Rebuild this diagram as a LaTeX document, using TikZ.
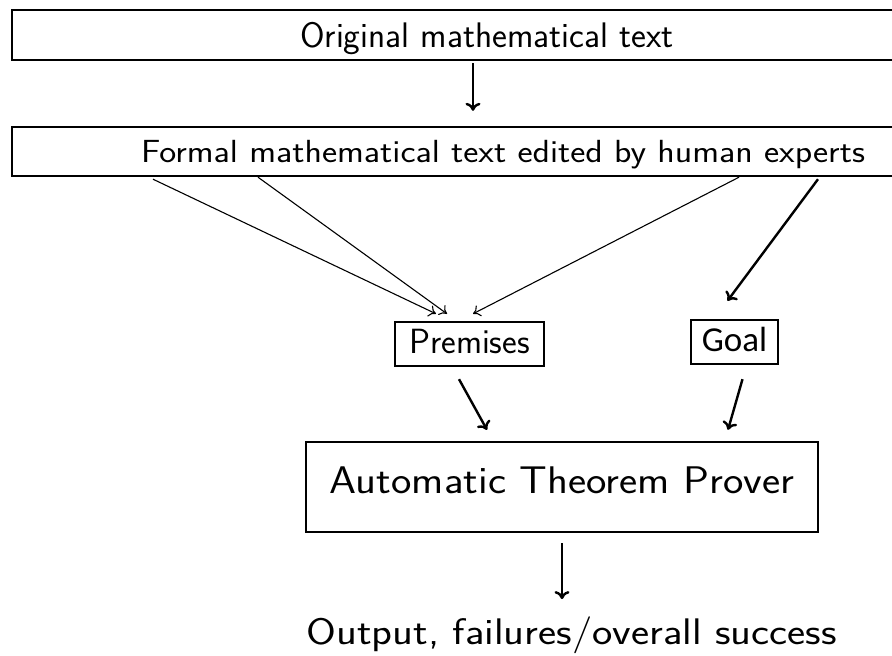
\documentclass[tikz,border=0pt]{standalone}
\usepackage{fontspec}
\usepackage{graphicx}
\usetikzlibrary{arrows.meta}
\newfontfamily\goalfont{Carlito}
\begin{document}
\begin{tikzpicture}[x=1pt,y=-1pt,
  box/.style={draw,line width=2.4pt,inner sep=0pt,font=\sffamily},
  thin/.style={line width=1.1pt,-{To[length=7pt,width=12pt]}},
  arr/.style={line width=2.4pt,-{To[length=8pt,width=15pt]}}]
\clip (0,0) rectangle (892,656);
\fill[white] (0,0) rectangle (892,656);
\node[box,minimum width=950pt,minimum height=50pt,text depth=0pt,font=\sffamily\fontsize{35.5}{40}\selectfont] (orig) at (487,35) {Original mathematical text};
\node[box,minimum width=982pt,minimum height=49pt,text depth=0pt,font=\sffamily\fontsize{32}{36}\selectfont] (formal) at (503,151.5) {\scalebox{1.126}[1]{Formal mathematical text edited by human experts}};
\node[box,minimum width=149pt,minimum height=44pt,text depth=6pt,font=\sffamily\fontsize{35}{40}\selectfont] (prem) at (469.5,344) {Premises};
\node[box,minimum width=87pt,minimum height=44pt,text depth=6pt,font=\goalfont\fontsize{35}{40}\selectfont] (goal) at (734.5,342) {Goal};
\node[box,minimum width=512pt,minimum height=90pt,text depth=14.7pt,font=\sffamily\fontsize{38.5}{44}\selectfont] (atp) at (562,487) {\scalebox{1.124}[1]{Automatic Theorem Prover}};
\node[inner sep=0pt,font=\sffamily\fontsize{37}{42}\selectfont,anchor=base] (out) at (571.5,644) {\scalebox{1.165}[1]{Output, failures/overall success}};
\draw[arr] ([xshift=-14pt,yshift=-2pt]orig.south) -- ([xshift=-30pt,yshift=15pt]formal.north);
\draw[thin] ([xshift=-350pt,yshift=-2pt]formal.south) -- ([xshift=-33.5pt,yshift=7pt]prem.north);
\draw[thin] ([xshift=-245pt]formal.south) -- ([xshift=-22.5pt,yshift=7pt]prem.north);
\draw[thin] ([xshift=236pt]formal.south) -- ([xshift=3.5pt,yshift=7pt]prem.north);
\draw[arr] ([xshift=315pt,yshift=-2pt]formal.south) -- ([xshift=-7pt,yshift=18pt]goal.north);
\draw[arr] ([xshift=-10.5pt,yshift=-12pt]prem.south) -- ([xshift=-75pt,yshift=11pt]atp.north);
\draw[arr] ([xshift=8pt,yshift=-14pt]goal.south) -- ([xshift=166pt,yshift=11pt]atp.north);
\draw[arr] ([yshift=-10pt]atp.south) -- ([xshift=-9.5pt,yshift=17pt]out.north);
\end{tikzpicture}
\end{document}
